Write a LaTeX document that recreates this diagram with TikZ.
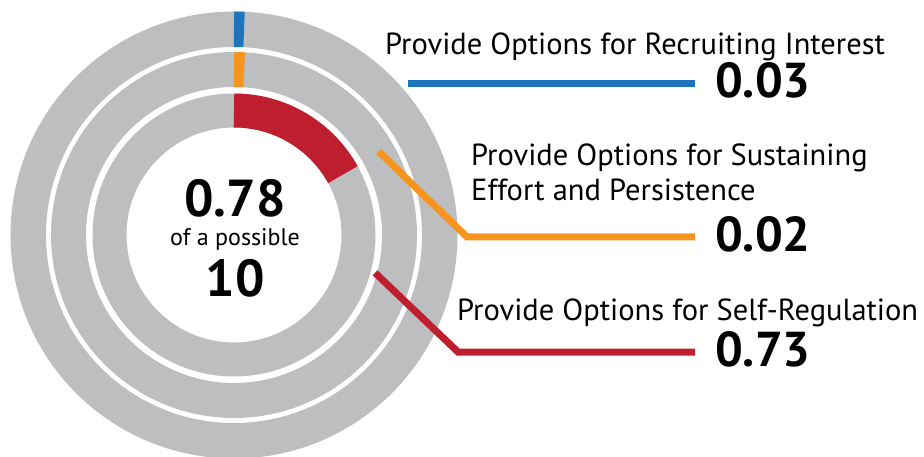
\documentclass[tikz,border=0pt]{standalone}
\usepackage{fontspec}
\setmainfont{PT Sans}
\definecolor{ringgray}{HTML}{BCBEC0}
\definecolor{udlred}{HTML}{BE1E2D}
\definecolor{udlorange}{HTML}{F7941D}
\definecolor{udlblue}{HTML}{1C75BC}
\tikzset{
  ring/.style={draw=ringgray, line cap=butt},
  leader/.style={line width=7pt, line cap=butt, line join=miter},
  caption/.style={inner sep=0pt, anchor=base west, font=\fontsize{30.5}{35}\selectfont},
  score/.style={inner sep=0pt, anchor=base west, font=\fontsize{49}{50}\selectfont\bfseries},
}
\begin{document}
\begin{tikzpicture}[x=1pt, y=1pt]
  \useasboundingbox (0,0) rectangle (924,-457);
  \coordinate (c) at (234,-235);
  % rings
  \draw[ring, line width=35.5pt] (c) circle[radius=205.75];
  \draw[ring, line width=35pt] (c) circle[radius=165.5];
  \draw[ring, line width=34pt] (c) circle[radius=124.5];
  % values on the rings
  \draw[udlblue, line width=35.5pt] ([shift={(90:205.75)}]c) arc[start angle=90, end angle=87.2, radius=205.75];
  \draw[udlorange, line width=35pt] ([shift={(90:165.5)}]c) arc[start angle=90, end angle=86.5, radius=165.5];
  \draw[udlred, line width=34pt] ([shift={(90:124.5)}]c) arc[start angle=90, end angle=29, radius=124.5];
  % centre text
  \node[inner sep=0pt, anchor=base, font=\fontsize{52}{54}\selectfont\bfseries] (total) at (235,-217) {0.78};
  \node[inner sep=0pt, anchor=base, font=\fontsize{24}{26}\selectfont] (possible) at (235,-246) {of a possible};
  \node[inner sep=0pt, anchor=base, font=\fontsize{52}{54}\selectfont\bfseries] (maximum) at (235,-297) {10};
  % labels
  \node[caption] (recruit) at (385,-55) {Provide Options for Recruiting Interest};
  \node[score] (recruitval) at (715,-98) {0.03};
  \node[caption] (sustain) at (471,-166) {Provide Options for Sustaining};
  \node[caption] (sustain2) at (471,-201) {Effort and Persistence};
  \node[score] (sustainval) at (715,-252) {0.02};
  \node[caption] (selfreg) at (457,-320) {Provide Options for Self-Regulation};
  \node[score] (selfregval) at (715,-366) {0.73};
  % leaders
  \coordinate (bluestart) at (408,-84);
  \coordinate (blueend) at (695,-84);
  \coordinate (orangestart) at ([shift={(30:167)}]c);
  \coordinate (orangebend) at (467,-237);
  \coordinate (orangeend) at (695,-237);
  \coordinate (redstart) at ([shift={(-15:146)}]c);
  \coordinate (redbend) at (458,-352);
  \coordinate (redend) at (695,-352);
  \draw[leader, udlblue] (bluestart) -- (blueend);
  \draw[leader, udlorange] (orangestart) -- (orangebend) -- (orangeend);
  \draw[leader, udlred] (redstart) -- (redbend) -- (redend);
\end{tikzpicture}
\end{document}
